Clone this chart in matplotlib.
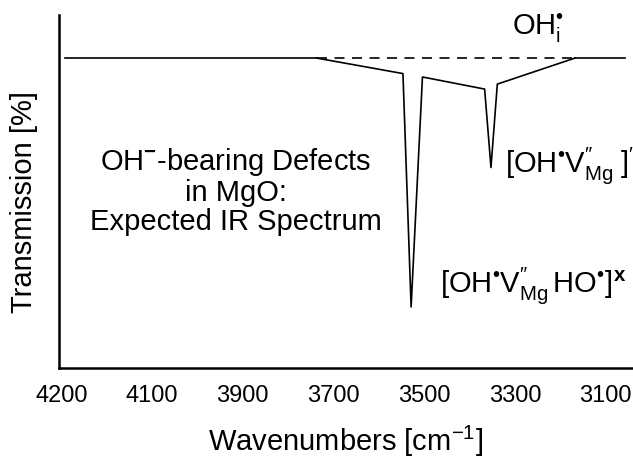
import numpy as np
import matplotlib
matplotlib.use('Agg')
import matplotlib.pyplot as plt

plt.rcParams['font.family'] = ['Liberation Sans', 'DejaVu Sans']
plt.rcParams['mathtext.fontset'] = 'custom'
plt.rcParams['mathtext.rm'] = 'Liberation Sans'
plt.rcParams['mathtext.it'] = 'Liberation Sans:italic'
plt.rcParams['mathtext.bf'] = 'Liberation Sans:bold'

# esquema del espectro IR
base_izq_x = [4292, 3737]
base_izq_y = [100, 100]
base_punt_x = [3737, 3168]
base_punt_y = [100, 100]
base_der_x = [3168, 3058]
base_der_y = [100, 100]
espectro_x = [3737, 3547, 3529, 3504, 3367, 3353, 3339, 3168]
espectro_y = [100, 95.0, 19.7, 93.9, 90.0, 64.7, 91.6, 100]

tick_pos = [4300, 4100, 3900, 3700, 3500, 3300, 3100]
tick_lab = ['4200', '4100', '3900', '3700', '3500', '3300', '3100']

fig = plt.figure(figsize=(6.33, 4.59), dpi=100)
ax = fig.add_axes([59/633, 1 - 368/459, 1 - 59/633, (368 - 15)/459])

ax.plot(base_izq_x, base_izq_y, 'k', lw=1.2)
ax.plot(base_punt_x, base_punt_y, 'k', lw=1.2, dashes=(6, 4.5))
ax.plot(base_der_x, base_der_y, 'k', lw=1.2)
ax.plot(espectro_x, espectro_y, 'k', lw=1.2)

ax.set_xlim(4305, 3040)
ax.set_ylim(0, 113.9)
ax.set_xticks(tick_pos)
ax.set_xticklabels(tick_lab)
ax.set_yticks([])
ax.tick_params(axis='x', length=0, pad=12, labelsize=17)
for s in ['top', 'right']:
    ax.spines[s].set_visible(False)
for s in ['left', 'bottom']:
    ax.spines[s].set_linewidth(1.8)

ax.set_xlabel('Wavenumbers [cm$^{\\mathregular{-1}}$]', fontsize=21, labelpad=12)
ax.set_ylabel('Transmission [%]', fontsize=21)
ax.yaxis.set_label_coords(-0.036, 0.47)

ax.text(3915, 57, 'OH$^{\\mathbf{-}}$-bearing Defects\nin MgO:\nExpected IR Spectrum',
        ha='center', va='center', fontsize=21, linespacing=1.05)
ax.text(3307, 107.4, '$\\mathrm{OH}_{\\mathrm{i}}^{\\mathrm{\u2022}}$', ha='left', va='baseline', fontsize=21)
ax.text(3322, 63.2, '$[\\mathrm{OH}^{\\mathrm{\u2022}}\\mathrm{V}^{\\mathrm{\u2033}}_{\\mathrm{Mg}}\\;]^{\\mathrm{\u2032}}$',
        ha='left', va='baseline', fontsize=21, clip_on=False)
ax.text(3466, 24.5, '$[\\mathrm{OH}^{\\mathrm{\u2022}}\\mathrm{V}^{\\mathrm{\u2033}}_{\\mathrm{Mg}}\\,\\mathrm{HO}^{\\mathrm{\u2022}}]^{\\mathbf{x}}$',
        ha='left', va='baseline', fontsize=21)

fig.savefig('out.png', dpi=100)
